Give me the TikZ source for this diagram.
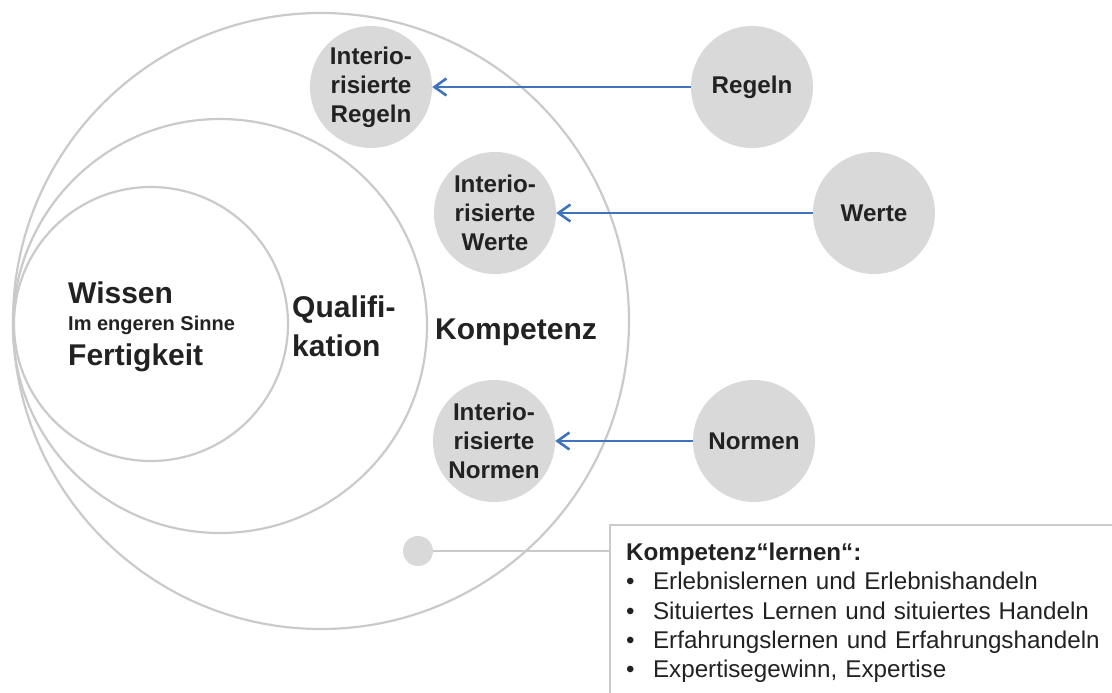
\documentclass[tikz,border=0pt]{standalone}
\usepackage{fontspec}
\setmainfont{Liberation Sans}
\usepackage{tikz}
\usetikzlibrary{arrows.meta}

\definecolor{ringgray}{HTML}{CACACA}
\definecolor{ballgray}{HTML}{D9D9D9}
\definecolor{arrowblue}{HTML}{3E74BD}
\definecolor{textblack}{HTML}{222222}

\tikzset{
	ring/.style = {draw=ringgray, line width=2.2pt},
	ball/.style = {circle, fill=ballgray, minimum size=122pt, inner sep=0pt, align=center,
		text=textblack, font=\fontsize{24.2}{29}\selectfont\bfseries},
	pull/.style = {draw=arrowblue, line width=2.6pt,
		-{Straight Barb[length=12pt, width=17pt, line width=2.6pt]}},
	biglabel/.style = {anchor=base west, inner sep=0pt, text=textblack,
		font=\fontsize{30}{30}\selectfont\bfseries},
}

\begin{document}
\begin{tikzpicture}[x=1pt, y=-1pt]
	\useasboundingbox (0,0) rectangle (1112,693);

	% rings
	\draw[ring] (321,321) circle (308pt);
	\draw[ring] (220,326) circle (207pt);
	\draw[ring] (151,324) circle (137pt);

	\node[biglabel] (wissen) at (68,303) {Wissen};
	\node[biglabel, font=\fontsize{20}{20}\selectfont\bfseries] (sinne) at (68,330) {Im engeren Sinne};
	\node[biglabel] (fertig) at (68,365) {Fertigkeit};
	\node[biglabel] (quali) at (292,317) {Qualifi-};
	\node[biglabel] (kation) at (292,356) {kation};
	\node[biglabel] (kompetenz) at (435,339) {Kompetenz};

	% balls
	\node[ball] (intregeln) at (371,87) {Interio-\\risierte\\Regeln};
	\node[ball] (intwerte) at (495,213) {Interio-\\risierte\\Werte};
	\node[ball] (intnormen) at (494,441) {Interio-\\risierte\\Normen};

	\node[ball] (regeln) at (752,87) {Regeln};
	\node[ball] (werte) at (874,213) {Werte};
	\node[ball] (normen) at (754,441) {Normen};

	\draw[pull] (regeln) -- (intregeln);
	\draw[pull] (werte) -- (intwerte);
	\draw[pull] (normen) -- (intnormen);

	% legend
	\node[circle, fill=ballgray, minimum size=30pt, inner sep=0pt] (dot) at (418,551) {};
	\node[draw=ringgray, line width=2.2pt, anchor=north west, text width=520pt,
		inner xsep=16pt, inner ysep=18pt, align=left, text=textblack,
		font=\fontsize{24.2}{29.2}\selectfont] (lernbox) at (609,524)
		{\textbf{Kompetenz“lernen“:}\\
		\makebox[27pt][l]{•}Erlebnislernen und Erlebnishandeln\\
		\makebox[27pt][l]{•}Situiertes Lernen und situiertes Handeln\\
		\makebox[27pt][l]{•}Erfahrungslernen und Erfahrungshandeln\\
		\makebox[27pt][l]{•}Expertisegewinn, Expertise};
	\draw[ring] (dot) -- (dot -| lernbox.west);
\end{tikzpicture}
\end{document}
